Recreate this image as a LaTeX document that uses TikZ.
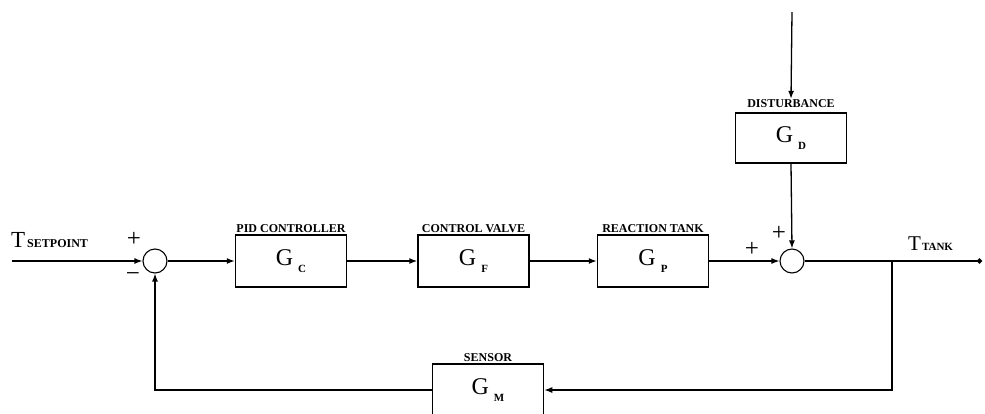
\documentclass[tikz,border=0pt]{standalone}
\usepackage{fontspec}
\setmainfont{Liberation Serif}
\usetikzlibrary{arrows.meta}
\tikzset{
  blk/.style={draw, line width=1.5pt, minimum width=111pt, minimum height=52pt, inner sep=0pt},
  sumj/.style={draw, circle, line width=1.1pt, minimum size=24pt, inner sep=0pt},
  arr/.style={line width=1.3pt, -{Latex[length=8pt,width=6pt]}},
  wire/.style={line width=1.3pt},
  blab/.style={font=\fontsize{12}{12}\selectfont\bfseries, inner sep=1pt},
  sgn/.style={font=\fontsize{25}{25}\selectfont, inner sep=0pt},
}
\newcommand{\gblock}[1]{{\fontsize{24}{24}\selectfont G}\hspace{5pt}\raisebox{-7pt}{\fontsize{11}{11}\selectfont\bfseries #1}}
\begin{document}
\begin{tikzpicture}[x=1pt,y=-1pt]
\clip (0,0) rectangle (985,413);
\fill[white] (0,0) rectangle (985,413);

% summing junctions
\node[sumj] (s1) at (155,261) {};
\node[sumj] (s2) at (792,261) {};

% blocks
\node[blk, label={[blab, name=lc]above:PID CONTROLLER}] (gc) at (291,261) {\gblock{C}};
\node[blk, label={[blab, name=lf]above:CONTROL VALVE}] (gf) at (473.5,261) {\gblock{F}};
\node[blk, label={[blab, name=lp]above:REACTION TANK}] (gp) at (653,261) {\gblock{P}};
\node[blk, minimum height=50pt, label={[blab, name=ld, yshift=3pt]above:DISTURBANCE}] (gd) at (791,138) {\gblock{D}};
\node[blk, label={[blab, name=lm]above:SENSOR}] (gm) at (488,390) {\gblock{M}};

% signal labels
\node[anchor=base west, inner sep=0pt] (tsp) at (11,247) {{\fontsize{23}{23}\selectfont T}\hspace{2pt}{\fontsize{12}{12}\selectfont\bfseries SETPOINT}};
\node[anchor=base west, inner sep=0pt] (ttank) at (908,250) {{\fontsize{21}{21}\selectfont T}\hspace{1pt}{\fontsize{11}{11}\selectfont\bfseries TANK}};

% signs
\node[sgn] (p1) at (134,239) {+};
\node[sgn] (m1) at (133,277) {\textminus};
\node[sgn] (p2) at (752,249) {+};
\node[sgn] (p3) at (779,233) {+};

% coordinates
\coordinate (sp) at (12,261);
\coordinate (out) at (982,261);
\coordinate (dtop) at (792,12);
\coordinate (br) at (892,261);

% forward path
\draw[arr] (sp) -- (s1.west);
\draw[arr] (s1.east) -- (gc.west);
\draw[arr] (gc.east) -- (gf.west);
\draw[arr] (gf.east) -- (gp.west);
\draw[arr] (gp.east) -- (s2.west);
\draw[wire, -{Circle[length=5pt]}] (s2.east) -- (out);

% disturbance
\draw[arr] (dtop) -- (ld.north);
\draw[arr] (gd.south) -- (s2.north);

% feedback
\draw[arr] (br) |- (gm.east);
\draw[arr] (gm.west) -| (s1.south);
\end{tikzpicture}
\end{document}
